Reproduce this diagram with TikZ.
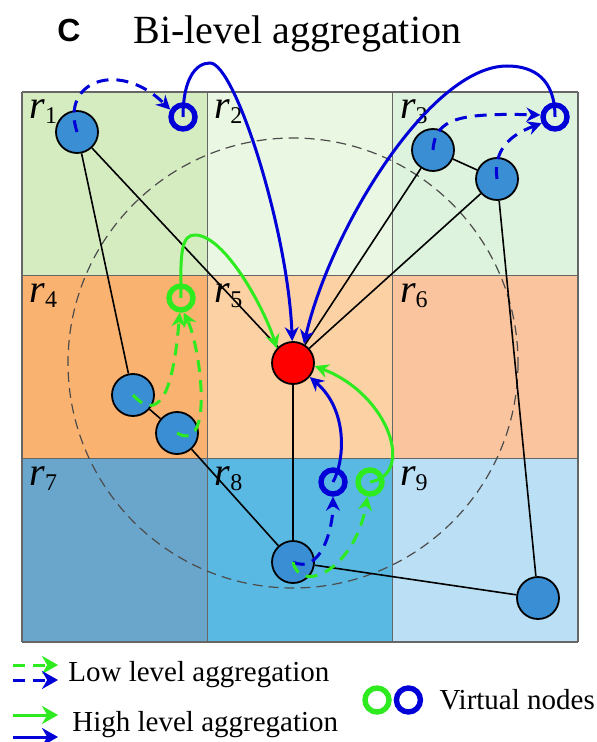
\documentclass[tikz,border=0pt]{standalone}
\usepackage{fontspec}
\setmainfont{Liberation Serif}
\setsansfont{Liberation Sans}
\usepackage{tikz}
\usepackage{xcolor}
\usetikzlibrary{arrows.meta, positioning, calc}
\definecolor{cR1}{RGB}{213,235,192}
\definecolor{cR2}{RGB}{234,247,226}
\definecolor{cR3}{RGB}{222,243,221}
\definecolor{cR4}{RGB}{250,178,112}
\definecolor{cR5}{RGB}{252,210,165}
\definecolor{cR6}{RGB}{250,197,158}
\definecolor{cR7}{RGB}{106,166,203}
\definecolor{cR8}{RGB}{90,185,226}
\definecolor{cR9}{RGB}{187,223,245}
\definecolor{cNode}{RGB}{58,143,212}
\definecolor{cGreenV}{RGB}{45,235,30}
\definecolor{cBlueV}{RGB}{0,0,215}
\newcommand{\rlab}[1]{\textit{r}\raisebox{-2.5pt}{\fontsize{12}{12}\selectfont #1}}
\tikzset{
	realnode/.style={circle, draw=black, line width=0.9pt, fill=cNode, minimum size=21pt, inner sep=0pt},
	hubnode/.style ={realnode, fill=red},
	virt/.style    ={circle, line width=2.7pt, minimum size=12pt, inner sep=0pt},
	link/.style    ={line width=0.8pt, black},
	gridline/.style={line width=0.7pt, black!60},
	lowagg/.style  ={line width=1.5pt, dash pattern=on 6pt off 4pt, -{Stealth[length=7pt, width=7pt]}},
	highagg/.style ={line width=1.5pt, -{Stealth[length=7pt, width=7pt]}},
	legarrow/.style={-{Stealth[length=8pt, width=9pt]}},
}

\begin{document}
\begin{tikzpicture}[x=0.5pt, y=-0.5pt,
					legtext/.style={font=\fontsize{14.5}{17}\selectfont, inner sep=0pt},
					reglabel/.style={font=\fontsize{20}{24}\selectfont, inner sep=0pt, anchor=base west}]
	\useasboundingbox (0,0) rectangle (597,742);
	% title
	\node[font=\sffamily\bfseries\fontsize{16}{18}\selectfont, anchor=base west, inner sep=0pt] (panel) at (57,42) {C};
	\node[font=\fontsize{20}{24}\selectfont, anchor=base west, inner sep=0pt] (title) at (133,44) {Bi-level aggregation};
	% regions
	\foreach \i/\cx/\cy in {1/0/0, 2/1/0, 3/2/0, 4/0/1, 5/1/1, 6/2/1, 7/0/2, 8/1/2, 9/2/2} {
		\fill[cR\i] (22+185.3*\cx, 92+183.3*\cy) rectangle ++(185.3,183.3);
		\node[reglabel] (r\i) at (22+185.3*\cx+7, 92+183.3*\cy+27) {\rlab{\i}};
	}
	\foreach \k in {0,...,3} {
		\draw[gridline] (22+185.3*\k,92) -- (22+185.3*\k,642);
		\draw[gridline] (22,92+183.3*\k) -- (578,92+183.3*\k);
	}
	% nodes
	\node[hubnode] (ctr) at (293,363) {};
	\draw[black!70, line width=0.6pt, dash pattern=on 5pt off 3pt] (ctr) circle[radius=225];
	\node[realnode] (a1) at (77,132) {};
	\node[realnode] (a3) at (433,150) {};
	\node[realnode] (b3) at (497,179) {};
	\node[realnode] (a4) at (133,395) {};
	\node[realnode] (b4) at (177,433) {};
	\node[realnode] (a8) at (293,562) {};
	\node[realnode] (a9) at (538,598) {};
	\foreach \p/\q in {a1/a4, a1/ctr, a3/b3, a3/ctr, b3/ctr, b3/a9, a4/b4, b4/a8, ctr/a8, a8/a9}
		\draw[link] (\p) -- (\q);
	\node[virt, draw=cBlueV] (v1) at (183,117) {};
	\node[virt, draw=cBlueV] (v3) at (555,117) {};
	\node[virt, draw=cGreenV] (v4) at (181,298) {};
	\node[virt, draw=cBlueV] (v8) at (333,482) {};
	\node[virt, draw=cGreenV] (v9) at (370,482) {};
	% low level
	\draw[lowagg, cBlueV] (a1.center) .. controls (60,80) and (120,60) .. (v1.150);
	\draw[lowagg, cBlueV] (a3.center) .. controls (435,118) and (460,113) .. (v3.172);
	\draw[lowagg, cBlueV] (b3.center) .. controls (493,150) and (510,135) .. (v3.205);
	\draw[lowagg, cGreenV] (a4.center) .. controls (165,430) and (175,370) .. (v4.-95);
	\draw[lowagg, cGreenV] (b4.center) .. controls (215,455) and (200,345) .. (v4.-80);
	\draw[lowagg, cBlueV] (a8.center) .. controls (320,575) and (333,530) .. (v8.south);
	\draw[lowagg, cGreenV] (a8.center) .. controls (300,595) and (355,570) .. (v9.-100);
	% high level
	\draw[highagg, cBlueV] (v1.center) .. controls (183,80) and (195,63) .. (210,63) .. controls (235,63) and (288,230) .. (ctr.92);
	\draw[highagg, cBlueV] (v3.center) .. controls (555,80) and (535,66) .. (507,66) .. controls (430,66) and (330,230) .. (ctr.60);
	\draw[highagg, cGreenV] (v4.center) .. controls (180,250) and (182,235) .. (195,235) .. controls (225,235) and (265,310) .. (ctr.138);
	\draw[highagg, cBlueV] (v8.center) .. controls (345,460) and (348,410) .. (ctr.-40);
	\draw[highagg, cGreenV] (v9.center) .. controls (415,475) and (390,395) .. (ctr.-8);
	% legend
	\coordinate (lgA) at (13,665); \coordinate (lgAe) at (58,665);
	\coordinate (lgB) at (13,680); \coordinate (lgBe) at (58,680);
	\coordinate (lgC) at (13,715); \coordinate (lgCe) at (58,715);
	\coordinate (lgD) at (13,737); \coordinate (lgDe) at (58,737);
	\draw[lowagg, legarrow, cGreenV] (lgA) -- (lgAe);
	\draw[lowagg, legarrow, cBlueV] (lgB) -- (lgBe);
	\draw[highagg, legarrow, cGreenV] (lgC) -- (lgCe);
	\draw[highagg, legarrow, cBlueV] (lgD) -- (lgDe);
	\node[legtext, anchor=west] (lowtxt) at (68,675) {Low level aggregation};
	\node[legtext, anchor=west] (hightxt) at (72,725) {High level aggregation};
	\node[virt, draw=cGreenV] (lgv1) at (377,700) {};
	\node[virt, draw=cBlueV, right=1pt of lgv1] (lgv2) {};
	\node[legtext, right=8pt of lgv2] (virttxt) {Virtual nodes};
\end{tikzpicture}
\end{document}
